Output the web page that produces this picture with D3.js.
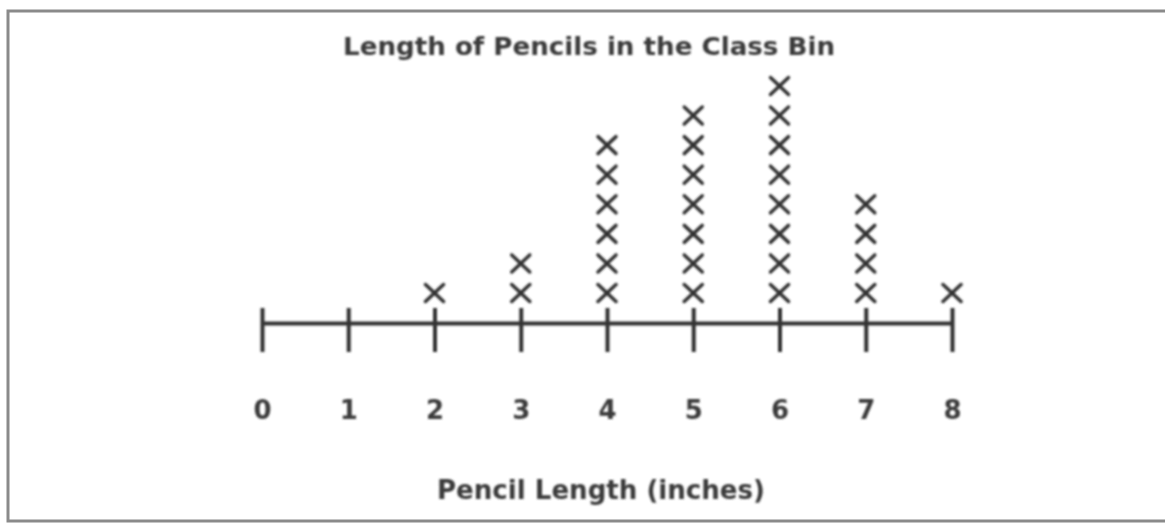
<!DOCTYPE html>
<html>
<head>
<meta charset="utf-8">
<script src="https://cdn.jsdelivr.net/npm/d3@7"></script>
<style>
  body { margin: 0; background: #fff; }
  svg { display: block; }
  text { font-family: "DejaVu Sans", sans-serif; fill: #3a3a3a; }
</style>
</head>
<body>
<div id="chart"></div>
<script>
const lengths = [0, 1, 2, 3, 4, 5, 6, 7, 8]
const counts = [0, 0, 1, 2, 6, 7, 8, 4, 1]
const title = 'Length of Pencils in the Class Bin'
const xTitle = 'Pencil Length (inches)'

const width = 1165
const height = 524

const svg = d3.select('#chart')
  .append('svg')
  .attr('width', width)
  .attr('height', height)

const defs = svg.append('defs')
defs.append('filter').attr('id', 'soft')
  .append('feGaussianBlur').attr('stdDeviation', 0.8)

// frame of the scanned worksheet
svg.append('path')
  .attr('d', `M${width + 2},11 H8 V521 H${width + 2}`)
  .attr('fill', 'none')
  .attr('stroke', '#8a8a8a')
  .attr('stroke-width', 3)

const g = svg.append('g').attr('filter', 'url(#soft)')

const x = d3.scaleLinear()
  .domain([0, 8])
  .range([262, 952])

// stack position: nth mark of a column
const y = d3.scaleLinear()
  .domain([1, 8])
  .range([293, 86])

const axisY = 323
const axis = d3.axisBottom(x)
  .tickValues(lengths)
  .tickFormat(d3.format('d'))
  .tickSizeOuter(0)
  .tickPadding(0)

const ax = g.append('g')
  .attr('transform', `translate(0,${axisY})`)
  .call(axis)

ax.select('.domain')
  .attr('stroke', '#333')
  .attr('stroke-width', 4)
ax.selectAll('.tick line')
  .attr('stroke', '#333')
  .attr('stroke-width', 4)
  .attr('y1', -15)
  .attr('y2', 29)
ax.selectAll('.tick text')
  .attr('y', 96)
  .attr('dy', 0)
  .style('font-size', '26px')
  .style('font-weight', 'bold')
  .attr('fill', '#3a3a3a')

// one X per pencil
const marks = []
lengths.forEach((len, i) => {
  for (let k = 1; k <= counts[i]; k++) marks.push({ len, k })
})

const hw = 9
const hh = 8.5
g.selectAll('path.mark')
  .data(marks)
  .join('path')
  .attr('class', 'mark')
  .attr('d', d => {
    const cx = x(d.len)
    const cy = y(d.k)
    return `M${cx - hw},${cy - hh} L${cx + hw},${cy + hh} M${cx + hw},${cy - hh} L${cx - hw},${cy + hh}`
  })
  .attr('stroke', '#333')
  .attr('stroke-width', 3.5)
  .attr('stroke-linecap', 'round')

g.append('text')
  .attr('x', 589)
  .attr('y', 55)
  .attr('text-anchor', 'middle')
  .attr('textLength', 492)
  .attr('lengthAdjust', 'spacingAndGlyphs')
  .style('font-size', '25px')
  .style('font-weight', 'bold')
  .text(title)

g.append('text')
  .attr('x', 601)
  .attr('y', 499)
  .attr('text-anchor', 'middle')
  .attr('textLength', 328)
  .attr('lengthAdjust', 'spacingAndGlyphs')
  .style('font-size', '26px')
  .style('font-weight', 'bold')
  .text(xTitle)
</script>
</body>
</html>
